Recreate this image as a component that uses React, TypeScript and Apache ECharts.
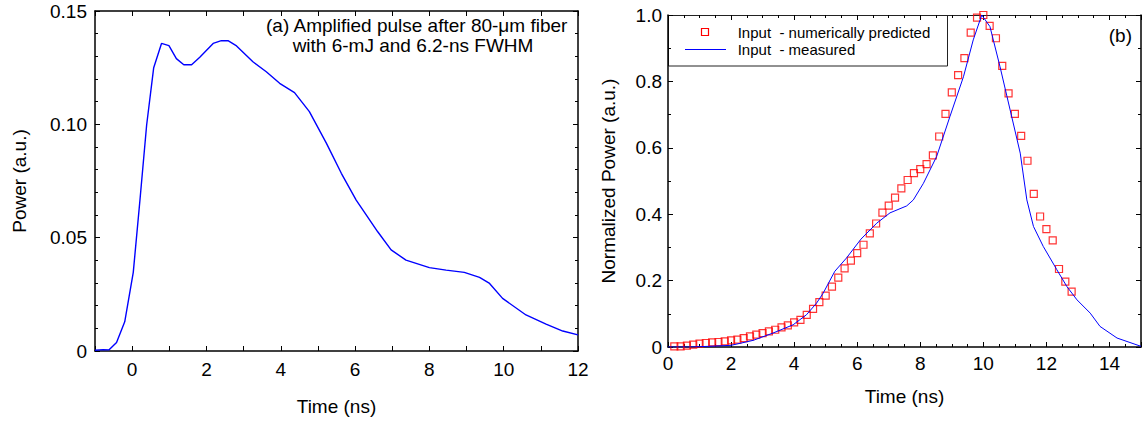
import React, { useEffect, useRef } from 'react';
import * as echarts from 'echarts';

const FONT = "'Liberation Sans', Arial, Helvetica, sans-serif";

// Panel (a): amplified pulse
const timeA = [-1, -0.78, -0.62, -0.42, -0.2, 0.03, 0.21, 0.39, 0.58, 0.79, 0.99, 1.19, 1.39, 1.6, 1.82, 2.18, 2.4, 2.58, 2.81, 3.25, 3.61, 3.97, 4.37, 4.77, 5.23, 5.63, 6.03, 6.61, 6.97, 7.37, 8.0, 8.45, 8.94, 9.35, 9.62, 9.97, 10.6, 11.14, 11.59, 12];
const powerA = [0.0003, 0.0006, 0.0005, 0.0038, 0.0129, 0.0347, 0.0666, 0.0997, 0.125, 0.1357, 0.1347, 0.129, 0.1263, 0.1263, 0.1296, 0.1357, 0.1369, 0.1369, 0.1346, 0.1276, 0.1232, 0.1181, 0.114, 0.1056, 0.0916, 0.0784, 0.0666, 0.0526, 0.0446, 0.0401, 0.0368, 0.0357, 0.0347, 0.0325, 0.0298, 0.0232, 0.0159, 0.0119, 0.0088, 0.0071];

// Panel (b): measured input
const timeMeasured = [0, 0.7, 1.3, 2.0, 2.7, 3.33, 3.97, 4.39, 4.71, 4.92, 5.29, 5.66, 6.12, 6.62, 7.04, 7.57, 7.78, 8.1, 8.52, 8.94, 9.37, 9.68, 9.95, 10.21, 10.53, 10.85, 11.17, 11.38, 11.59, 11.9, 12.33, 12.65, 12.97, 13.39, 13.7, 14.24, 15];
const measured = [0, 0, 0.002, 0.005, 0.02, 0.042, 0.067, 0.097, 0.132, 0.162, 0.228, 0.268, 0.325, 0.373, 0.404, 0.425, 0.443, 0.493, 0.574, 0.694, 0.814, 0.925, 1.0, 0.965, 0.844, 0.714, 0.584, 0.443, 0.363, 0.303, 0.233, 0.182, 0.142, 0.102, 0.062, 0.027, 0.002];

// Panel (b): numerically predicted input
const timePredicted = [0.2, 0.4, 0.6, 0.8, 1.0, 1.2, 1.4, 1.6, 1.8, 2.0, 2.2, 2.4, 2.6, 2.8, 3.0, 3.2, 3.4, 3.6, 3.8, 4.0, 4.2, 4.4, 4.6, 4.8, 5.0, 5.2, 5.4, 5.6, 5.8, 6.0, 6.2, 6.4, 6.6, 6.8, 7.0, 7.2, 7.4, 7.6, 7.8, 8.0, 8.2, 8.4, 8.6, 8.8, 9.0, 9.2, 9.4, 9.6, 9.8, 10.0, 10.2, 10.4, 10.6, 10.8, 11.0, 11.2, 11.4, 11.6, 11.8, 12.0, 12.2, 12.4, 12.6, 12.8];
const predicted = [0.002, 0.002, 0.004, 0.007, 0.01, 0.012, 0.014, 0.015, 0.017, 0.02, 0.022, 0.027, 0.032, 0.037, 0.042, 0.047, 0.052, 0.059, 0.065, 0.074, 0.082, 0.097, 0.115, 0.135, 0.155, 0.182, 0.209, 0.237, 0.26, 0.283, 0.308, 0.342, 0.372, 0.405, 0.426, 0.45, 0.478, 0.503, 0.524, 0.536, 0.551, 0.577, 0.634, 0.702, 0.767, 0.819, 0.87, 0.947, 0.992, 1.0, 0.967, 0.93, 0.847, 0.764, 0.702, 0.636, 0.561, 0.461, 0.393, 0.355, 0.321, 0.235, 0.197, 0.167];

const nameMeasured = 'Input  - measured';
const namePredicted = 'Input  - numerically predicted';
const annotationA1 = '(a) Amplified pulse after 80-\u03bcm fiber';
const annotationA2 = 'with 6-mJ and 6.2-ns FWHM';
const annotationB = '(b)';

export default function App() {
  const ref = useRef<HTMLDivElement>(null);
  useEffect(() => {
    const chart = echarts.init(ref.current!, null, { renderer: 'svg' });
    const line = { show: true, onZero: false, lineStyle: { color: '#000', width: 1.5 } };
    const thinLine = { show: true, onZero: false, lineStyle: { color: '#222', width: 1 } };
    const tick = { show: true, inside: true, length: 5, lineStyle: { color: '#000', width: 1 } };
    const minor = (n: number) => ({ show: true, splitNumber: n, length: 3, lineStyle: { color: '#000', width: 1 } });
    const label = (margin: number, formatter: any) => ({ show: true, margin, color: '#000', fontSize: 19, fontFamily: FONT, formatter });
    const nameStyle = { color: '#000', fontSize: 19, fontFamily: FONT };
    const noLabel = { show: false };
    const noSplit = { show: false };

    const option: any = {
      animation: false,
      backgroundColor: '#fff',
      grid: [
        { left: 95, top: 11, width: 483, height: 340 },
        { left: 668, top: 15, width: 473, height: 332 },
      ],
      xAxis: [
        {
          type: 'value', gridIndex: 0, position: 'bottom', min: -1, max: 12, interval: 1,
          axisLine: line, axisTick: tick, splitLine: noSplit,
          axisLabel: label(9, (v: number) => (v % 2 === 0 ? String(v) : '')),
          name: 'Time (ns)', nameLocation: 'middle', nameGap: 46, nameTextStyle: nameStyle,
        },
        {
          type: 'value', gridIndex: 0, position: 'top', min: -1, max: 12, interval: 1,
          axisLine: line, axisTick: tick, splitLine: noSplit, axisLabel: noLabel,
        },
        {
          type: 'value', gridIndex: 1, position: 'bottom', min: 0, max: 15, interval: 2,
          axisLine: line, axisTick: tick, minorTick: minor(4), splitLine: noSplit,
          axisLabel: label(7, (v: number) => (v === 15 ? '' : String(v))),
          name: 'Time (ns)', nameLocation: 'middle', nameGap: 40, nameTextStyle: nameStyle,
        },
        {
          type: 'value', gridIndex: 1, position: 'top', min: 0, max: 15, interval: 2,
          axisLine: thinLine, axisTick: tick, minorTick: minor(4), splitLine: noSplit, axisLabel: noLabel,
        },
      ],
      yAxis: [
        {
          type: 'value', gridIndex: 0, position: 'left', min: 0, max: 0.15, interval: 0.05,
          axisLine: line, axisTick: tick, minorTick: minor(5), splitLine: noSplit,
          axisLabel: label(8, (v: number) => (v === 0 ? '0' : v.toFixed(2))),
          name: 'Power (a.u.)', nameLocation: 'middle', nameRotate: 90, nameGap: 66, nameTextStyle: nameStyle,
        },
        {
          type: 'value', gridIndex: 0, position: 'right', min: 0, max: 0.15, interval: 0.05,
          axisLine: line, axisTick: tick, minorTick: minor(5), splitLine: noSplit, axisLabel: noLabel,
        },
        {
          type: 'value', gridIndex: 1, position: 'left', min: 0, max: 1, interval: 0.2,
          axisLine: line, axisTick: tick, minorTick: minor(2), splitLine: noSplit,
          axisLabel: label(6, (v: number) => (v === 0 ? '0' : v.toFixed(1))),
          name: 'Normalized Power (a.u.)', nameLocation: 'middle', nameRotate: 90, nameGap: 50, nameTextStyle: nameStyle,
        },
        {
          type: 'value', gridIndex: 1, position: 'right', min: 0, max: 1, interval: 0.2,
          axisLine: line, axisTick: tick, minorTick: minor(2), splitLine: noSplit, axisLabel: noLabel,
        },
      ],
      series: [
        {
          type: 'line', xAxisIndex: 0, yAxisIndex: 0, symbol: 'none',
          data: timeA.map((t, i) => [t, powerA[i]]),
          lineStyle: { color: '#0000ff', width: 1.4 }, itemStyle: { color: '#0000ff' },
        },
        {
          name: namePredicted, type: 'scatter', xAxisIndex: 2, yAxisIndex: 2,
          symbol: 'rect', symbolSize: 7, z: 2,
          data: timePredicted.map((t, i) => [t, predicted[i]]),
          itemStyle: { color: 'rgba(255,255,255,0)', borderColor: '#ff0000', borderWidth: 1.2 },
        },
        {
          name: nameMeasured, type: 'line', xAxisIndex: 2, yAxisIndex: 2, symbol: 'none', z: 3,
          data: timeMeasured.map((t, i) => [t, measured[i]]),
          lineStyle: { color: '#0000ff', width: 1 }, itemStyle: { color: '#0000ff' },
        },
      ],
      graphic: [
        {
          type: 'text', x: 416.7, y: 25, z: 20,
          style: { text: annotationA1, fill: '#000', fontSize: 19, fontFamily: FONT, align: 'center', verticalAlign: 'middle' },
        },
        {
          type: 'text', x: 413, y: 45, z: 20,
          style: { text: annotationA2, fill: '#000', fontSize: 19, fontFamily: FONT, align: 'center', verticalAlign: 'middle' },
        },
        {
          type: 'text', x: 1132, y: 35, z: 20,
          style: { text: annotationB, fill: '#000', fontSize: 19, fontFamily: FONT, align: 'right', verticalAlign: 'middle' },
        },
        {
          type: 'group', z: 30,
          children: [
            { type: 'rect', shape: { x: 668.5, y: 15.5, width: 279, height: 50.5 }, style: { fill: '#fff', stroke: '#222', lineWidth: 1 } },
            { type: 'rect', shape: { x: 701.5, y: 28.5, width: 7, height: 7 }, style: { fill: 'none', stroke: '#ff0000', lineWidth: 1.2 } },
            { type: 'line', shape: { x1: 685, y1: 49.5, x2: 726, y2: 49.5 }, style: { stroke: '#0000ff', lineWidth: 1 } },
            { type: 'text', x: 737.7, y: 32, style: { text: namePredicted, fill: '#000', fontSize: 15, fontFamily: FONT, verticalAlign: 'middle' } },
            { type: 'text', x: 737.7, y: 49.5, style: { text: nameMeasured, fill: '#000', fontSize: 15, fontFamily: FONT, verticalAlign: 'middle' } },
          ],
        },
      ],
    };
    chart.setOption(option);
    return () => chart.dispose();
  }, []);
  return <div ref={ref} style={{ position: 'fixed', left: 0, top: 0, width: 1144, height: 423, background: '#fff' }} />;
}
